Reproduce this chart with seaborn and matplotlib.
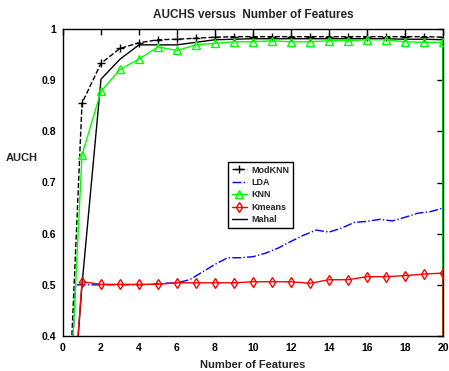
import matplotlib
matplotlib.use("Agg")
import matplotlib.pyplot as plt
import seaborn as sns
import pandas as pd
import numpy as np

# ---- data ----
# integer feature counts 0..20, then the curve closes back down at x=20
features = list(range(0, 21)) + [20]
modknn = [0.0, 0.855, 0.933, 0.962, 0.973, 0.979, 0.980, 0.982, 0.984, 0.985, 0.985,
          0.985, 0.985, 0.985, 0.985, 0.985, 0.985, 0.985, 0.985, 0.985, 0.984, 0.0]
knn = [0.0, 0.754, 0.878, 0.921, 0.941, 0.965, 0.958, 0.969, 0.972, 0.975, 0.975,
       0.977, 0.975, 0.975, 0.977, 0.977, 0.979, 0.979, 0.975, 0.974, 0.974, 0.0]
kmeans = [0.0, 0.506, 0.501, 0.501, 0.501, 0.501, 0.504, 0.504, 0.504, 0.504, 0.506,
          0.506, 0.506, 0.503, 0.510, 0.510, 0.516, 0.516, 0.518, 0.521, 0.523, 0.0]
mahal = [0.0, 0.500, 0.902, 0.941, 0.969, 0.969, 0.969, 0.974, 0.979, 0.980, 0.981,
         0.981, 0.981, 0.981, 0.981, 0.981, 0.981, 0.981, 0.980, 0.980, 0.979, 0.0]
# LDA sampled on a finer grid (steps of 2/3)
lda_x = [k * 2 / 3 for k in range(31)] + [20]
lda = [0.0, 0.500, 0.500, 0.500, 0.500, 0.500, 0.500, 0.501, 0.503, 0.504, 0.510,
       0.525, 0.540, 0.553, 0.553, 0.555, 0.562, 0.572, 0.585, 0.597, 0.607,
       0.603, 0.611, 0.622, 0.624, 0.628, 0.625, 0.632, 0.640, 0.643, 0.650, 0.0]

xticks = list(range(0, 21, 2))
yticks = [0.4, 0.5, 0.6, 0.7, 0.8, 0.9, 1.0]
yticklabels = ["0.4", "0.5", "0.6", "0.7", "0.8", "0.9", "1"]

sns.set_style("white")
plt.rcParams["font.family"] = ["Liberation Sans", "DejaVu Sans"]
plt.rcParams["font.weight"] = "bold"

fig = plt.figure(figsize=(4.49, 3.71), dpi=100)
ax = fig.add_axes([63 / 449, 1 - 336 / 371, 380 / 449, 307 / 371])

df_mod = pd.DataFrame({"x": features, "y": modknn})
df_knn = pd.DataFrame({"x": features, "y": knn})
df_km = pd.DataFrame({"x": features, "y": kmeans})
df_mah = pd.DataFrame({"x": features, "y": mahal})
df_lda = pd.DataFrame({"x": lda_x, "y": lda})

common = dict(x="x", y="y", estimator=None, sort=False, ax=ax, lw=1.0)

sns.lineplot(data=df_mah, color="k", linestyle="-", zorder=3, **common)
sns.lineplot(data=df_mod, color="k", linestyle="--", marker="+", markersize=6,
             markeredgecolor="k", markeredgewidth=1.0, zorder=3.1, **common)
sns.lineplot(data=df_lda, color="b", linestyle="-.", zorder=3.2, **common)
sns.lineplot(data=df_knn, color="#00ff00", linestyle="-", marker="^", markersize=5.5,
             markerfacecolor="none", markeredgecolor="#00ff00", markeredgewidth=1.0,
             zorder=3.3, **common)
sns.lineplot(data=df_km, color="r", linestyle="-", marker="d", markersize=5.5,
             markerfacecolor="none", markeredgecolor="r", markeredgewidth=1.0,
             zorder=3.4, **common)

lines = ax.get_lines()
handles = [lines[1], lines[2], lines[3], lines[4], lines[0]]
labels = ["ModKNN", "LDA", "KNN", "Kmeans", "Mahal"]
leg = ax.legend(handles, labels, loc="upper left", bbox_to_anchor=(0.434, 0.567),
                frameon=True, fancybox=False, shadow=False, framealpha=1,
                edgecolor="k", prop={"size": 6.5, "weight": "bold"},
                handlelength=1.7, handletextpad=0.5, labelspacing=0.38,
                borderpad=0.4, borderaxespad=0)
leg.get_frame().set_linewidth(1.0)
leg.set_zorder(5)

ax.set_xlim(0, 20)
ax.set_ylim(0.4, 1.0)
ax.set_xticks(xticks)
ax.set_xticklabels([str(t) for t in xticks])
ax.set_yticks(yticks)
ax.set_yticklabels(yticklabels)
ax.tick_params(direction="in", length=4, width=1, top=True, right=True,
               labelsize=7.5, pad=5, colors="k")
for lab in ax.get_xticklabels() + ax.get_yticklabels():
    lab.set_fontweight("bold")
for s in ax.spines.values():
    s.set_visible(True)
    s.set_color("k")
    s.set_linewidth(1.0)

ax.set_title("AUCHS versus  Number of Features", fontsize=8.5, fontweight="bold", pad=8)
ax.set_xlabel("Number of Features", fontsize=8, fontweight="bold", labelpad=5)
ax.set_ylabel("AUCH", fontsize=8, fontweight="bold", rotation=0, ha="center", va="center")
ax.yaxis.set_label_coords(-0.108, 0.58)

fig.savefig("out.png", dpi=100, facecolor="white")
